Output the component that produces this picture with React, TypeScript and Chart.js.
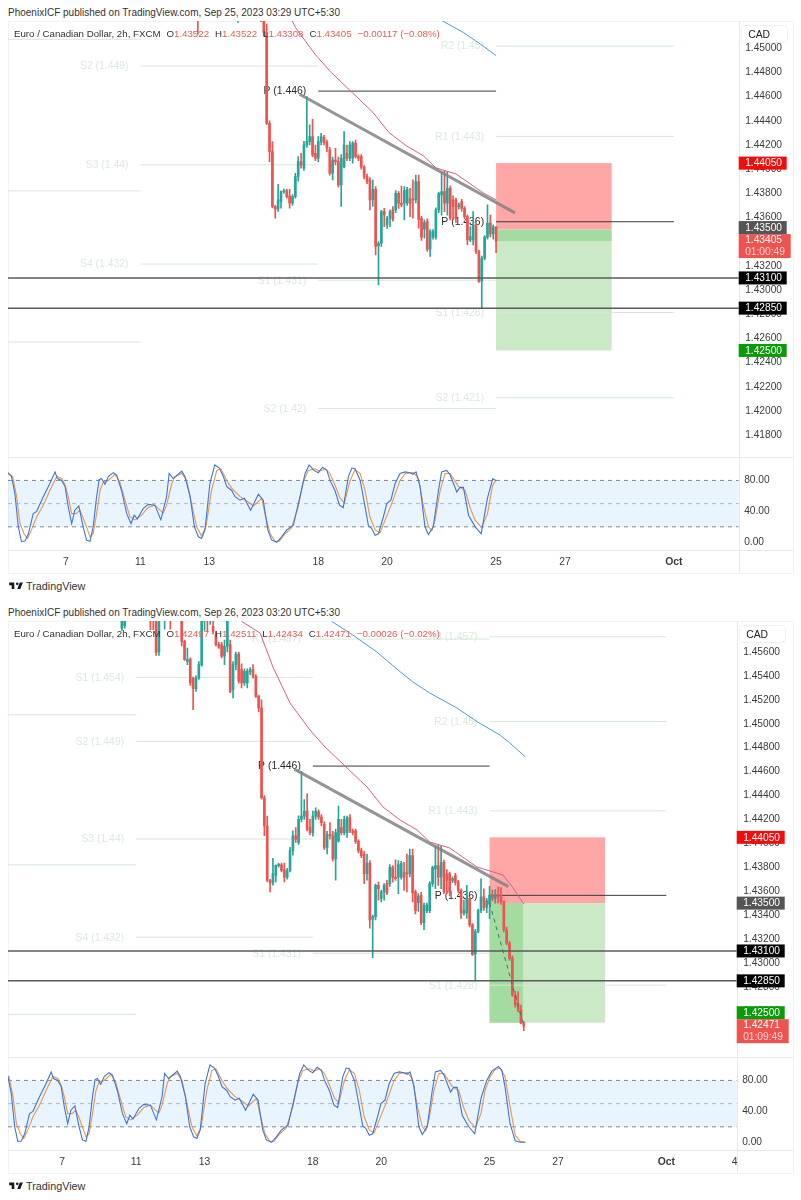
import { useEffect, useRef } from 'react'
import { Chart, registerables } from 'chart.js'

Chart.register(...registerables)

// bars are counted in 2h steps from the "7" tick of the time axis
// [bar, open, high, low, close]
const CANDLES_SEP_8_15 = [
  [21, 1.458, 1.4605, 1.4578, 1.46], [22, 1.4582, 1.4606, 1.458, 1.4601], [31, 1.4608, 1.461, 1.45787, 1.4595],
  [32, 1.4602, 1.4608, 1.45787, 1.4597], [33, 1.46, 1.4605, 1.45572, 1.45597], [34, 1.456, 1.4602, 1.45572, 1.46],
  [36, 1.4598, 1.4606, 1.4579, 1.4604], [38, 1.4605, 1.4608, 1.4579, 1.4599], [42, 1.459, 1.4598, 1.4565, 1.45689],
  [43, 1.45689, 1.457, 1.4553, 1.45536], [44, 1.45522, 1.45633, 1.45494, 1.45536], [45, 1.45536, 1.4555, 1.4532, 1.45341],
  [46, 1.45382, 1.4539, 1.45118, 1.45293], [47, 1.45293, 1.454, 1.4527, 1.45382], [48, 1.45382, 1.4552, 1.4537, 1.45494],
  [49, 1.45494, 1.4592, 1.4548, 1.45856], [50, 1.4586, 1.4605, 1.4578, 1.46], [51, 1.46, 1.4606, 1.4577, 1.4592],
  [52, 1.4592, 1.4602, 1.4583, 1.46], [53, 1.45814, 1.459, 1.4575, 1.45772], [54, 1.45745, 1.4577, 1.4565, 1.45661],
  [55, 1.45661, 1.4568, 1.4563, 1.4564], [56, 1.45661, 1.4568, 1.4555, 1.45564], [57, 1.45564, 1.457, 1.45494, 1.45647],
  [58, 1.45647, 1.4592, 1.456, 1.45856], [59, 1.45661, 1.457, 1.4526, 1.45271], [60, 1.45285, 1.4552, 1.45215, 1.45494],
  [61, 1.45494, 1.456, 1.4545, 1.45583], [62, 1.45583, 1.456, 1.4534, 1.45355], [63, 1.45452, 1.455, 1.45299, 1.45341],
  [64, 1.45341, 1.4546, 1.4532, 1.45438], [65, 1.45341, 1.4546, 1.45299, 1.45438], [66, 1.45433, 1.4547, 1.4541, 1.45452],
  [67, 1.45452, 1.45494, 1.4538, 1.45396], [68, 1.45396, 1.4541, 1.4522, 1.45229], [69, 1.45229, 1.4524, 1.451, 1.45132],
]
const CANDLES_SEP_15_19 = [
  [70, 1.45132, 1.452, 1.4437, 1.4438], [71, 1.4438, 1.444, 1.44063, 1.44145], [72, 1.44145, 1.44228, 1.4368, 1.43691],
  [73, 1.43691, 1.437, 1.43594, 1.43669], [74, 1.43669, 1.43875, 1.4365, 1.43746], [75, 1.43732, 1.4382, 1.43677, 1.43815],
  [76, 1.43815, 1.43835, 1.438, 1.4382], [77, 1.4382, 1.43834, 1.4376, 1.43773], [78, 1.43778, 1.43834, 1.43677, 1.43718],
  [79, 1.43718, 1.4379, 1.437, 1.43773], [80, 1.43773, 1.43966, 1.4376, 1.43939], [81, 1.43939, 1.44104, 1.439, 1.44063],
  [82, 1.44063, 1.44132, 1.44008, 1.44035], [83, 1.44008, 1.4423, 1.4399, 1.44201], [84, 1.44201, 1.446, 1.4418, 1.44228],
  [85, 1.44228, 1.44366, 1.442, 1.44269], [86, 1.44269, 1.44413, 1.44104, 1.44118], [87, 1.44132, 1.442, 1.4407, 1.4409],
  [88, 1.4409, 1.44269, 1.4406, 1.44228], [89, 1.44228, 1.44297, 1.442, 1.44269], [90, 1.44264, 1.4428, 1.442, 1.4422],
  [91, 1.4422, 1.4424, 1.44145, 1.44173], [92, 1.44159, 1.4418, 1.4395, 1.43966], [93, 1.43966, 1.441, 1.43911, 1.44076],
  [94, 1.44076, 1.44173, 1.44035, 1.44063], [95, 1.44063, 1.441, 1.4385, 1.4387], [96, 1.4387, 1.4412, 1.43691, 1.4409],
  [97, 1.44018, 1.44311, 1.4401, 1.44201], [98, 1.44132, 1.442, 1.4407, 1.4409], [99, 1.4409, 1.44228, 1.4407, 1.44201],
  [100, 1.4409, 1.44228, 1.4405, 1.44215], [101, 1.44215, 1.4424, 1.4409, 1.44104], [102, 1.44104, 1.4412, 1.4407, 1.4409],
  [103, 1.44104, 1.4412, 1.44, 1.44016], [104, 1.44016, 1.4403, 1.4392, 1.43939], [105, 1.43939, 1.4396, 1.4388, 1.43897],
  [106, 1.43911, 1.4393, 1.43663, 1.43746], [107, 1.43746, 1.4391, 1.43691, 1.43834], [108, 1.43834, 1.43856, 1.43291, 1.4336],
]
const CANDLES_SEP_19_24 = [
  [109, 1.43365, 1.434, 1.43043, 1.43387], [110, 1.43387, 1.4366, 1.4336, 1.43649], [111, 1.43649, 1.43676, 1.43525, 1.43621],
  [112, 1.43539, 1.4361, 1.4351, 1.43594], [113, 1.43594, 1.43663, 1.43525, 1.43649], [114, 1.43663, 1.4369, 1.4357, 1.43585],
  [115, 1.43663, 1.43822, 1.4364, 1.438], [116, 1.438, 1.43814, 1.43676, 1.43718], [117, 1.43718, 1.43861, 1.4369, 1.43704],
  [118, 1.43718, 1.43855, 1.4358, 1.43822], [119, 1.43718, 1.4385, 1.437, 1.43833], [120, 1.43759, 1.43842, 1.43607, 1.43718],
  [121, 1.43751, 1.43911, 1.43594, 1.43745], [122, 1.43745, 1.43952, 1.4372, 1.43897], [123, 1.43897, 1.43952, 1.43511, 1.43585],
  [124, 1.43594, 1.4361, 1.4341, 1.43437], [125, 1.43503, 1.4358, 1.4343, 1.43558], [126, 1.43566, 1.4359, 1.4332, 1.43337],
  [127, 1.43337, 1.435, 1.43277, 1.43483], [128, 1.43437, 1.435, 1.4342, 1.43483], [129, 1.43437, 1.4368, 1.4342, 1.43663],
  [130, 1.43663, 1.4381, 1.4364, 1.438], [131, 1.43787, 1.4398, 1.4362, 1.43814], [132, 1.43814, 1.43988, 1.43649, 1.43718],
  [133, 1.43718, 1.4398, 1.4362, 1.43842], [134, 1.43842, 1.4386, 1.4358, 1.43594], [135, 1.43745, 1.4378, 1.4358, 1.4369],
  [136, 1.43745, 1.4376, 1.4356, 1.43594], [137, 1.4369, 1.4372, 1.4367, 1.43705], [138, 1.43731, 1.4375, 1.4365, 1.43676],
  [139, 1.43676, 1.4369, 1.4359, 1.43607], [140, 1.43607, 1.4362, 1.43373, 1.43415], [141, 1.43415, 1.43525, 1.434, 1.43442],
  [142, 1.43415, 1.43649, 1.43373, 1.43539], [143, 1.43539, 1.4355, 1.433, 1.43318], [144, 1.43318, 1.4333, 1.43062, 1.4307],
  [145, 1.43076, 1.4328, 1.4285, 1.43263], [146, 1.43263, 1.4345, 1.4325, 1.43437], [147, 1.43437, 1.43704, 1.4342, 1.43553],
  [148, 1.43553, 1.4362, 1.4344, 1.43465], [149, 1.43465, 1.4354, 1.4342, 1.43522],
]
const CANDLE_LIVE_SEP_25 = [150, 1.43522, 1.43522, 1.43308, 1.43405]
const CANDLES_SEP_25_26 = [
  [150, 1.43492, 1.4364, 1.4337, 1.43568], [151, 1.43568, 1.4361, 1.4352, 1.4354], [152, 1.4354, 1.43615, 1.435, 1.43568],
  [153, 1.43568, 1.43637, 1.435, 1.43554], [154, 1.43568, 1.4363, 1.4349, 1.43512], [155, 1.43512, 1.4352, 1.4326, 1.43275],
  [156, 1.43275, 1.433, 1.4315, 1.43163], [157, 1.43163, 1.4318, 1.4302, 1.43038], [158, 1.43038, 1.4306, 1.4272, 1.42732],
  [159, 1.42732, 1.4276, 1.4263, 1.42648], [160, 1.42662, 1.4276, 1.4259, 1.42606], [161, 1.42606, 1.42648, 1.4249, 1.42497],
  [162, 1.42497, 1.42511, 1.42434, 1.42471],
]

// [bar, price]
const MA_PINK = [
  [63, 1.45856], [69.5, 1.45758], [74, 1.45474], [80, 1.45173], [87, 1.44947], [92.3, 1.44805], [100, 1.4463], [107, 1.44471],
  [112.6, 1.44304], [118.6, 1.44195], [124.6, 1.44111], [129, 1.44011], [136, 1.43961], [145.6, 1.43802],
]
const MA_PINK_END_25 = [[150, 1.43746]]
const MA_PINK_END_26 = [[154.7, 1.43735], [158, 1.43635], [162, 1.43493]]
const MA_BLUE = [
  [94.6, 1.45856], [102, 1.45742], [110.5, 1.45599], [118.6, 1.45435], [123, 1.45351], [129, 1.45257], [138.6, 1.45131], [145.6, 1.45017],
]
const MA_BLUE_END_25 = [[150, 1.44939]]
const MA_BLUE_END_26 = [[153.7, 1.44905], [157, 1.44841], [162.5, 1.44724]]
const TREND_LINE = [[81.5, 1.4462], [156.6, 1.43638]]
const LEVEL_LINES = [1.431, 1.4285]

// [from bar, to bar, price, label]
const PIVOTS_WEEK_1 = [[-25, 26, 1.45075, ''], [-25, 26, 1.4382, ''], [-25, 26, 1.4257, '']]
const PIVOTS_WEEK_2 = [
  [26, 88, 1.45388, 'S1 (1.454)'], [26, 88, 1.44853, 'S2 (1.449)'], [26, 88, 1.44036, 'S3 (1.44)'], [26, 88, 1.43215, 'S4 (1.432)'],
]
const PIVOTS_WEEK_3 = [
  [88, 150, 1.45708, 'R1 (1.457)'], [88, 150, 1.44646, 'P (1.446)'], [88, 150, 1.43081, 'S1 (1.431)'], [88, 150, 1.42019, 'S2 (1.42)'],
]
const PIVOTS_WEEK_4 = [
  [150, 212, 1.45727, 'R3 (1.457)'], [150, 212, 1.45018, 'R2 (1.45)'], [150, 212, 1.44271, 'R1 (1.443)'],
  [150, 212, 1.43565, 'P (1.436)'], [150, 212, 1.42814, 'S1 (1.428)'], [150, 212, 1.42108, 'S2 (1.421)'],
]
const PIVOTS = [...PIVOTS_WEEK_1, ...PIVOTS_WEEK_2, ...PIVOTS_WEEK_3, ...PIVOTS_WEEK_4] as [number, number, number, string][]

// [bar, value]
const STOCH_K = [
  [-20.5, 91], [-19, 85.6], [-17.8, 63], [-16.6, 20], [-15.5, 1], [-14.3, 1.5], [-13.1, 11], [-11.4, 37], [-10.2, 40], [-7.9, 59],
  [-5.6, 76], [-3.8, 91], [-3, 82.5], [-1.5, 80], [-0.3, 72], [0.8, 46], [2, 24], [3.1, 41.5], [4.5, 47], [6, 20], [7.2, 2.7], [8.4, 1.4],
  [9.5, 20], [10.7, 59], [11.6, 81], [12.4, 82.5], [13.6, 75], [14.8, 85], [16.5, 90], [17.7, 87], [19.4, 67], [21.2, 37], [22.7, 24],
  [23.8, 35], [24.9, 30], [27, 44], [28.7, 49], [31, 48], [33.1, 29], [35.1, 59], [36, 89], [37.4, 82.5], [39.2, 88], [40.4, 92], [41.5, 85],
  [43.3, 59], [44.8, 20], [46.2, 7], [47.3, 5], [48.5, 16], [50.2, 76], [51.9, 100], [53.5, 96], [54.9, 85], [56.1, 72], [57.8, 67], [59, 59],
  [60.7, 54.5], [62.2, 57], [64.4, 41.5], [67.1, 62], [68.8, 54.5], [70.4, 16], [71.7, 3], [73.5, 0], [75.2, 7], [77, 16], [79.3, 22], [81.6, 59],
  [83.4, 89], [84.8, 100], [86.5, 93], [88, 90], [89.5, 97], [91, 93], [92.1, 80], [93.8, 67], [95.4, 48], [96.7, 45], [98.5, 85], [99.7, 96],
  [100.8, 95], [102.6, 80], [104.3, 46], [105.5, 21], [106.6, 18], [107.8, 9], [109, 11], [110.7, 33], [111.9, 50], [113.3, 54.5], [114.8, 76],
  [116.5, 89], [118.3, 91], [120, 90], [121, 88], [122.1, 91], [123.5, 72], [125.2, 20], [126.4, 10], [128.1, 20], [129.9, 67], [131, 91],
  [132.8, 93], [134, 87], [136.3, 65], [137.4, 71], [138.6, 71], [140.4, 35], [142.7, 20], [144.8, 11], [147, 57],
]
const STOCH_K_END_25 = [[148.8, 82], [150, 80]]
const STOCH_K_END_26 = [[149, 80], [150.8, 92], [153.1, 98], [154.3, 93], [155.4, 72], [157.2, 24], [159, 2], [160.7, 0], [162.5, 0]]
const STOCH_D = [
  [-20.5, 89], [-18.6, 85], [-17.2, 59], [-16, 24], [-14.6, 11], [-13.4, 5], [-12, 16], [-10.2, 33], [-7.9, 48], [-5.6, 67], [-3.2, 85],
  [-1.5, 82.5], [-0.3, 74], [0.8, 59], [2, 37], [3.5, 37], [4.9, 41.5], [6.3, 28.6], [8.4, 7], [9.5, 11], [10.7, 37], [11.9, 67], [13, 78],
  [14.8, 80], [17.1, 88], [18.8, 78], [20.6, 54.5], [22.3, 33], [24.1, 29], [26.4, 35], [28.7, 45], [31, 48], [32.8, 41.5], [34, 38], [35.1, 48],
  [36.9, 76], [38, 85], [40.4, 89], [42.1, 80], [43.8, 50], [45.6, 20], [47.3, 8], [48.8, 20], [50.8, 67], [52.6, 93], [54, 95], [56.1, 80],
  [57.8, 70], [60.7, 59], [63.6, 52], [65.4, 47], [68.3, 57], [69.4, 37], [71.2, 11], [72.9, 1.4], [74.4, 1.4], [76.4, 11], [78.7, 19], [81, 46],
  [82.8, 78], [84.5, 93], [86.9, 95], [88.4, 92], [90.4, 95], [92.1, 89], [93.8, 74], [95.6, 57], [97.1, 51], [99.1, 80], [100.8, 94], [102.6, 89],
  [104.3, 67], [106, 33], [107.8, 16], [109.5, 12], [111.3, 28.6], [113.6, 50], [116.5, 80], [118.3, 89], [121.2, 90], [122.9, 82.5], [124.7, 46],
  [126.4, 20], [127.6, 15], [128.7, 28.6], [130.5, 67], [132.2, 89], [134, 89], [136.9, 72], [139.2, 67], [141, 44], [142.7, 28.6], [145, 19], [147, 37],
]
const STOCH_D_END_25 = [[148.8, 74], [150, 80]]
const STOCH_D_END_26 = [[148.4, 67], [150.2, 85], [151.9, 94], [153.7, 96], [155.4, 85], [157.2, 46], [159, 9], [160.7, 1.4], [162.5, 0]]
const STOCH_TICKS = [0, 40, 80]
const STOCH_LEVELS = [20, 50, 80]

const TIME_TICKS_25 = [0, 26, 50, 88, 112, 150, 174, 212]
const TIME_TICKS_26 = [0, 26, 50, 88, 112, 150, 174, 212, 236]
const TIME_LABELS = ['7', '11', '13', '18', '20', '25', '27', 'Oct', '4']

const PRICE_TICKS_25 = [1.45, 1.448, 1.446, 1.444, 1.442, 1.44, 1.438, 1.436, 1.434, 1.432, 1.43, 1.428, 1.426, 1.424, 1.422, 1.42, 1.418]
const PRICE_TICKS_26 = [1.456, 1.454, 1.452, 1.45, 1.448, 1.446, 1.444, 1.442, 1.44, 1.438, 1.436, 1.434, 1.432, 1.43, 1.428, 1.426, 1.424]

const RED = '#ef5350'
const GREEN = '#26a69a'
const FONT = '"Liberation Sans", Arial, sans-serif'
const PRICE_H = 437
const STOCH_H = 114
const CANVAS_W = 785

const PANELS = [
  {
    top: 0,
    title: 'PhoenixICF published on TradingView.com, Sep 25, 2023 03:29 UTC+5:30',
    ohlc: ['1.43522', '1.43522', '1.43308', '1.43405', '\u22120.00117 (\u22120.08%)'],
    axisW: 54.3,
    xMin: -20.2,
    xMax: 234.6,
    yMin: 1.4161,
    yMax: 1.45226,
    priceTicks: PRICE_TICKS_25,
    timeTicks: TIME_TICKS_25,
    candles: [...CANDLES_SEP_8_15, ...CANDLES_SEP_15_19, ...CANDLES_SEP_19_24, CANDLE_LIVE_SEP_25],
    pink: [...MA_PINK, ...MA_PINK_END_25],
    blue: [...MA_BLUE, ...MA_BLUE_END_25],
    stochK: [...STOCH_K, ...STOCH_K_END_25],
    stochD: [...STOCH_D, ...STOCH_D_END_25],
    pos: { start: 150, end: 190.3, stop: 1.4405, entry: 1.435, target: 1.425, filledTo: 190.3, filledPrice: 1.43405 },
    path: null as number[][] | null,
    // price, colour, offset of the tag in px (tags push each other apart)
    tags: [[1.4405, '#f20d0d', 0], [1.435, '#555555', -2], [1.431, '#000000', 0], [1.4285, '#000000', 0], [1.425, '#0a9b0a', 0]] as [number, string, number][],
    live: { price: 1.43405, timer: '01:00:49', shift: 5 },
  },
  {
    top: 600,
    title: 'PhoenixICF published on TradingView.com, Sep 26, 2023 03:20 UTC+5:30',
    ohlc: ['1.42497', '1.42511', '1.42434', '1.42471', '\u22120.00026 (\u22120.02%)'],
    axisW: 56.3,
    xMin: -18.95,
    xMax: 236.7,
    yMin: 1.42205,
    yMax: 1.45859,
    priceTicks: PRICE_TICKS_26,
    timeTicks: TIME_TICKS_26,
    candles: [...CANDLES_SEP_8_15, ...CANDLES_SEP_15_19, ...CANDLES_SEP_19_24, ...CANDLES_SEP_25_26],
    pink: [...MA_PINK, ...MA_PINK_END_26],
    blue: [...MA_BLUE, ...MA_BLUE_END_26],
    stochK: [...STOCH_K, ...STOCH_K_END_26],
    stochD: [...STOCH_D, ...STOCH_D_END_26],
    pos: { start: 150, end: 190.5, stop: 1.4405, entry: 1.435, target: 1.425, filledTo: 161.7, filledPrice: 1.425 },
    path: [[150, 1.435], [161.7, 1.425]] as number[][] | null,
    tags: [[1.4405, '#f20d0d', 0], [1.435, '#555555', 0], [1.431, '#000000', 0], [1.4285, '#000000', 0], [1.425, '#0a9b0a', -10]] as [number, string, number][],
    live: { price: 1.42471, timer: '01:09:49', shift: 5 },
  },
]
type Panel = (typeof PANELS)[number]

const toXY = (rows: number[][]) => rows.map(([x, y]) => ({ x, y }))

function thinLine(data: { x: number; y: number }[], color: string, width: number, order: number, dash: number[] = []) {
  return { type: 'line', data, borderColor: color, borderWidth: width, borderDash: dash, pointRadius: 0, tension: 0, order }
}

function fixAxis(size: 'width' | 'height', value: number) {
  return (s: any) => {
    s[size] = value
    s.paddingLeft = s.paddingRight = s.paddingTop = s.paddingBottom = 0
  }
}

function priceOptions(p: Panel): any {
  return {
    responsive: false,
    animation: false,
    events: [],
    layout: { padding: 0 },
    plugins: { legend: { display: false }, tooltip: { enabled: false } },
    scales: {
      x: { type: 'linear', min: p.xMin, max: p.xMax, offset: false, display: false, afterFit: fixAxis('height', 0) },
      y: {
        position: 'right',
        min: p.yMin,
        max: p.yMax,
        grid: { display: false, drawTicks: false },
        border: { display: false },
        afterBuildTicks: (s: any) => { s.ticks = p.priceTicks.map((value) => ({ value })) },
        afterFit: fixAxis('width', p.axisW),
        ticks: {
          padding: 6.5,
          color: '#3c3c3c',
          font: { family: FONT, size: 10.2 },
          autoSkip: false,
          callback: (v: any) => Number(v).toFixed(5),
        },
      },
    },
  }
}

// position box and pivot labels go under the candles, price tags over everything
function pricePlugin(p: Panel) {
  return {
    id: 'priceOverlay',
    beforeDatasetsDraw(chart: any) {
      const { ctx, chartArea: a, scales: { x, y } } = chart
      const box = (x0: number, x1: number, y0: number, y1: number, color: string) => {
        ctx.fillStyle = color
        ctx.fillRect(x.getPixelForValue(x0), y.getPixelForValue(y0), x.getPixelForValue(x1) - x.getPixelForValue(x0), y.getPixelForValue(y1) - y.getPixelForValue(y0))
      }
      ctx.save()
      ctx.beginPath()
      ctx.rect(a.left, a.top, a.right - a.left, a.bottom - a.top)
      ctx.clip()
      const d = p.pos
      box(d.start, d.end, d.stop, d.entry, '#ffa6a6')
      box(d.start, d.end, d.entry, d.target, '#cbe9c7')
      box(d.start, d.filledTo, d.entry, d.filledPrice, '#a4dba0')
      ctx.font = `10.4px ${FONT}`
      ctx.textAlign = 'right'
      ctx.textBaseline = 'middle'
      PIVOTS.forEach(([from, , price, label]) => {
        if (!label || price > p.yMax || price < p.yMin) return
        ctx.fillStyle = label.startsWith('P') ? '#2a2a2a' : '#dbe9de'
        ctx.fillText(label, x.getPixelForValue(from) - 12, y.getPixelForValue(price) + 0.5)
      })
      ctx.restore()
    },
    afterDraw(chart: any) {
      const { ctx, chartArea: a, scales: { y } } = chart
      ctx.save()
      ctx.textAlign = 'left'
      ctx.textBaseline = 'middle'
      ctx.font = `10.2px ${FONT}`
      p.tags.forEach(([price, color, shift]) => {
        const cy = y.getPixelForValue(price) + shift
        ctx.fillStyle = color
        ctx.fillRect(a.right, cy - 6.5, 48, 13)
        ctx.fillStyle = '#ffffff'
        ctx.fillText(price.toFixed(5), a.right + 6.5, cy + 0.5)
      })
      const cy = y.getPixelForValue(p.live.price) + p.live.shift
      ctx.fillStyle = RED
      ctx.fillRect(a.right, cy - 12, 52, 24)
      ctx.fillStyle = '#ffffff'
      ctx.fillText(p.live.price.toFixed(5), a.right + 6.5, cy - 5.5)
      ctx.fillStyle = '#ffd6d5'
      ctx.fillText(p.live.timer, a.right + 6.5, cy + 6)
      ctx.restore()
    },
  }
}

function PriceChart({ panel }: { panel: Panel }) {
  const ref = useRef<HTMLCanvasElement>(null)

  useEffect(() => {
    if (!ref.current) return
    const p = panel
    const colors = p.candles.map((c) => (c[4] >= c[1] ? GREEN : RED))
    const datasets: any[] = [
      ...PIVOTS.map(([from, to, price, label]) =>
        thinLine([{ x: from, y: price }, { x: to, y: price }], label.startsWith('P') ? '#3a3a3a' : '#d5e8d8', 1, 6)),
      {
        type: 'bar', grouped: false, barThickness: 1, borderWidth: 0, order: 5, backgroundColor: colors,
        data: p.candles.map((c) => ({ x: c[0], y: [c[3], c[2]] })),
      },
      {
        type: 'bar', grouped: false, barThickness: 2, minBarLength: 1, borderWidth: 0, order: 4, backgroundColor: colors,
        data: p.candles.map((c) => ({ x: c[0], y: [Math.min(c[1], c[4]), Math.max(c[1], c[4])] })),
      },
      thinLine(toXY(p.pink), '#d6608c', 1, 3),
      thinLine(toXY(p.blue), '#4a9fd8', 1, 3),
      ...LEVEL_LINES.map((price) => thinLine([{ x: p.xMin, y: price }, { x: p.xMax, y: price }], '#5a5a5a', 1.5, 2)),
      thinLine(toXY(TREND_LINE), 'rgba(130,130,130,0.85)', 3, 1),
    ]
    if (p.path) datasets.push(thinLine(toXY(p.path), '#2f7d5c', 1, 0, [4, 4]))
    const chart = new Chart(ref.current, { type: 'bar', data: { datasets }, options: priceOptions(p), plugins: [pricePlugin(p)] })
    return () => chart.destroy()
  }, [panel])

  return <canvas ref={ref} width={CANVAS_W} height={PRICE_H} style={{ position: 'absolute', left: 8, top: panel.top + 21 }} />
}

function StochChart({ panel }: { panel: Panel }) {
  const ref = useRef<HTMLCanvasElement>(null)

  useEffect(() => {
    if (!ref.current) return
    const p = panel
    const band = {
      id: 'stochBand',
      beforeDatasetsDraw(chart: any) {
        const { ctx, chartArea: a, scales: { y } } = chart
        const y0 = y.getPixelForValue(STOCH_LEVELS[2])
        const y1 = y.getPixelForValue(STOCH_LEVELS[0])
        ctx.fillStyle = 'rgba(33,150,243,0.1)'
        ctx.fillRect(a.left, y0, a.right - a.left, y1 - y0)
      },
    }
    const datasets: any[] = [
      ...STOCH_LEVELS.map((v) =>
        thinLine([{ x: p.xMin, y: v }, { x: p.xMax, y: v }], v === 50 ? '#b4b6bd' : '#85878f', 1, 3, [4, 4])),
      thinLine(toXY(p.stochD), '#e8964f', 1.1, 2),
      thinLine(toXY(p.stochK), '#3f74d8', 1.1, 1),
    ]
    const options: any = {
      responsive: false,
      animation: false,
      events: [],
      layout: { padding: 0 },
      plugins: { legend: { display: false }, tooltip: { enabled: false } },
      scales: {
        x: {
          type: 'linear',
          min: p.xMin,
          max: p.xMax,
          grid: { display: false, drawTicks: false },
          border: { display: false },
          afterBuildTicks: (s: any) => { s.ticks = p.timeTicks.map((value) => ({ value })) },
          afterFit: fixAxis('height', 22),
          ticks: {
            padding: 6,
            autoSkip: false,
            maxRotation: 0,
            color: '#3c3c3c',
            font: (c: any) => ({ family: FONT, size: 10.4, weight: c.tick && c.tick.value === 212 ? 'bold' : 'normal' }),
            callback: (v: any) => TIME_LABELS[TIME_TICKS_26.indexOf(Number(v))],
          },
        },
        y: {
          position: 'right',
          min: -10,
          max: 109,
          grid: { display: false, drawTicks: false },
          border: { display: false },
          afterBuildTicks: (s: any) => { s.ticks = STOCH_TICKS.map((value) => ({ value })) },
          afterFit: fixAxis('width', p.axisW),
          ticks: {
            padding: 5.5,
            color: '#3c3c3c',
            font: { family: FONT, size: 10.2 },
            callback: (v: any) => Number(v).toFixed(2),
          },
        },
      },
    }
    const chart = new Chart(ref.current, { type: 'line', data: { datasets }, options, plugins: [band] })
    return () => chart.destroy()
  }, [panel])

  return <canvas ref={ref} width={CANVAS_W} height={STOCH_H} style={{ position: 'absolute', left: 8, top: panel.top + 458 }} />
}

function Screenshot({ panel }: { panel: Panel }) {
  const t = panel.top
  const axisX = 8 + CANVAS_W - panel.axisW
  const rule = '#e6e8ee'
  const val = { color: '#e0605a' }
  const gap = { marginLeft: 6 }
  return (
    <>
      <div style={{ position: 'absolute', left: 8, top: t + 21, width: CANVAS_W - 1, height: 551, border: '1px solid #f1f3f8', boxSizing: 'content-box' }} />
      <div style={{ position: 'absolute', left: 8, top: t + 457, width: CANVAS_W, height: 1, background: rule }} />
      <div style={{ position: 'absolute', left: 8, top: t + 550, width: CANVAS_W, height: 1, background: rule }} />
      <div style={{ position: 'absolute', left: axisX, top: t + 21, width: 1, height: 551, background: rule }} />
      <PriceChart panel={panel} />
      <StochChart panel={panel} />
      <div style={{ position: 'absolute', left: 8, top: t + 5, fontSize: 10, lineHeight: '15px', color: '#333', whiteSpace: 'nowrap' }}>{panel.title}</div>
      <div style={{ position: 'absolute', left: 14, top: t + 26, fontSize: 9.7, lineHeight: '15px', color: '#333', whiteSpace: 'nowrap' }}>
        Euro / Canadian Dollar, 2h, FXCM
        <span style={gap}>O<span style={val}>{panel.ohlc[0]}</span></span>
        <span style={gap}>H<span style={val}>{panel.ohlc[1]}</span></span>
        <span style={gap}>L<span style={val}>{panel.ohlc[2]}</span></span>
        <span style={gap}>C<span style={val}>{panel.ohlc[3]}</span></span>
        <span style={{ ...gap, ...val }}>{panel.ohlc[4]}</span>
      </div>
      <div style={{ position: 'absolute', left: axisX + 2.5, top: t + 25, width: 47, height: 18, background: '#fff', border: '1px solid #eef0f5', borderRadius: 4, fontSize: 10.4, lineHeight: '17px', color: '#222', paddingLeft: 6, boxSizing: 'border-box' }}>CAD</div>
      <svg viewBox="0 0 36 28" width="16" height="12" style={{ position: 'absolute', left: 8, top: t + 580 }}>
        <path d="M14 6H2v6h6v9h6V6zm14 15h-7l6-15h7l-6 15zm-7-9a3 3 0 100-6 3 3 0 000 6z" fill="#131722" />
      </svg>
      <div style={{ position: 'absolute', left: 26, top: t + 579, fontSize: 10.8, lineHeight: '15px', color: '#333' }}>TradingView</div>
    </>
  )
}

export default function App() {
  return (
    <div style={{ position: 'absolute', left: 0, top: 0, width: 801, height: 1200, background: '#fff', fontFamily: FONT, overflow: 'hidden' }}>
      {PANELS.map((p) => <Screenshot key={p.top} panel={p} />)}
    </div>
  )
}
